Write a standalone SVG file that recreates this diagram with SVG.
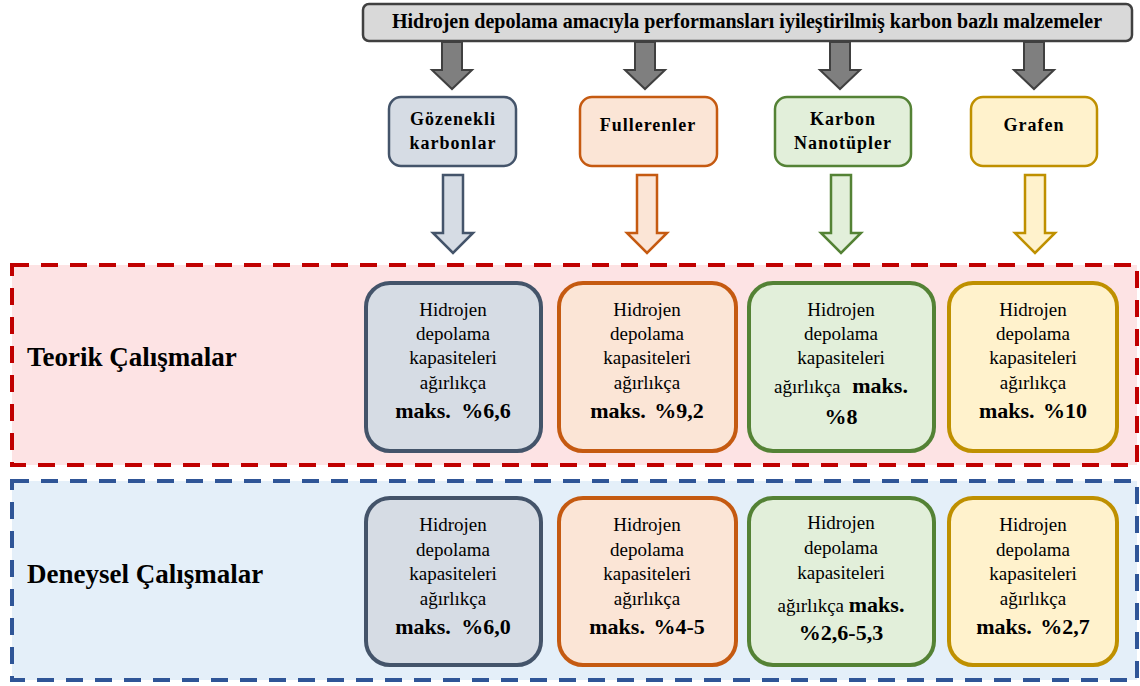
<svg xmlns="http://www.w3.org/2000/svg" width="1140" height="686" viewBox="0 0 1140 686">
<style>
text{font-family:"Liberation Serif","Times New Roman",serif;fill:#000;text-anchor:middle}
.t{font-size:20px;font-weight:bold}
.c{font-size:18px;font-weight:bold;letter-spacing:1px}
.b{font-size:19px}
.m{font-size:22px;font-weight:bold}
.lab{font-size:27px;font-weight:bold;text-anchor:start}
.gray{fill:#d6dce4;stroke:#44546a}
.org{fill:#fbe5d6;stroke:#c55a11}
.grn{fill:#e2efda;stroke:#548235}
.yel{fill:#fff2cc;stroke:#bf9000}
.cat{stroke-width:2.5}
.res{stroke-width:4}
.ga{fill:#7f7f7f;stroke:#404040;stroke-width:2}
.oa{stroke-width:2.5}
</style>
<rect x="12" y="265" width="1125" height="200" fill="#fde3e4" stroke="#c00000" stroke-width="4" stroke-dasharray="17 12"/>
<rect x="12" y="481" width="1125" height="199" fill="#e4eff9" stroke="#2f5597" stroke-width="4" stroke-dasharray="17 12"/>
<g id="top">
<rect x="363" y="4" width="769" height="37" rx="6" fill="#d9d9d9" stroke="#404040" stroke-width="2.5"/>
<text class="t" x="747" y="28">Hidrojen depolama amacıyla performansları iyileştirilmiş karbon bazlı malzemeler</text>
</g>
<g id="connectors">
<polygon class="ga" points="442,42 462,42 462,70 472,70 452,89 432,70 442,70"/>
<polygon class="ga" points="635,42 655,42 655,70 665,70 645,89 625,70 635,70"/>
<polygon class="ga" points="830,42 850,42 850,70 860,70 840,89 820,70 830,70"/>
<polygon class="ga" points="1024,42 1044,42 1044,70 1054,70 1034,89 1014,70 1024,70"/>
<polygon class="gray oa" points="443,175 463,175 463,233 473,233 453,253 433,233 443,233"/>
<polygon class="org oa" points="637,175 657,175 657,233 667,233 647,253 627,233 637,233"/>
<polygon class="grn oa" points="831,175 851,175 851,233 861,233 841,253 821,233 831,233"/>
<polygon class="yel oa" points="1025,175 1045,175 1045,233 1055,233 1035,253 1015,233 1025,233"/>
</g>
<g id="cat-gozenekli">
<rect class="gray cat" x="389" y="97" width="127" height="69" rx="12"/>
<text class="c" x="453" y="125">Gözenekli</text>
<text class="c" x="453" y="149">karbonlar</text>
</g>
<g id="cat-fulleren">
<rect class="org cat" x="580" y="97" width="137" height="69" rx="12"/>
<text class="c" x="648" y="131">Fullerenler</text>
</g>
<g id="cat-nanotup">
<rect class="grn cat" x="775" y="97" width="136" height="69" rx="12"/>
<text class="c" x="843" y="125">Karbon</text>
<text class="c" x="843" y="149">Nanotüpler</text>
</g>
<g id="cat-grafen">
<rect class="yel cat" x="971" y="97" width="126" height="69" rx="12"/>
<text class="c" x="1034" y="131">Grafen</text>
</g>
<g id="label-teorik"><text class="lab" x="27" y="366">Teorik Çalışmalar</text></g>
<g id="label-deneysel"><text class="lab" x="27" y="583">Deneysel Çalışmalar</text></g>
<g id="t-gozenekli">
<rect class="gray res" x="366" y="283" width="175" height="168" rx="24"/>
<text class="b" x="453" y="316">Hidrojen</text><text class="b" x="453" y="340">depolama</text><text class="b" x="453" y="364">kapasiteleri</text><text class="b" x="453" y="389">ağırlıkça</text>
<text class="m" x="453" y="418">maks. <tspan dx="5">%6,6</tspan></text>
</g>
<g id="t-fulleren">
<rect class="org res" x="559" y="283" width="177" height="168" rx="24"/>
<text class="b" x="647" y="316">Hidrojen</text><text class="b" x="647" y="340">depolama</text><text class="b" x="647" y="364">kapasiteleri</text><text class="b" x="647" y="389">ağırlıkça</text>
<text class="m" x="647" y="418">maks. <tspan dx="3">%9,2</tspan></text>
</g>
<g id="t-nanotup">
<rect class="grn res" x="749" y="283" width="185" height="168" rx="24"/>
<text class="b" x="841" y="316">Hidrojen</text><text class="b" x="841" y="340">depolama</text><text class="b" x="841" y="364">kapasiteleri</text>
<text x="841" y="393"><tspan class="b">ağırlıkça </tspan><tspan class="m" dx="7">maks.</tspan></text>
<text class="m" x="841" y="424">%8</text>
</g>
<g id="t-grafen">
<rect class="yel res" x="949" y="283" width="168" height="168" rx="24"/>
<text class="b" x="1033" y="316">Hidrojen</text><text class="b" x="1033" y="340">depolama</text><text class="b" x="1033" y="364">kapasiteleri</text><text class="b" x="1033" y="389">ağırlıkça</text>
<text class="m" x="1033" y="418">maks. <tspan dx="3">%10</tspan></text>
</g>
<g id="d-gozenekli">
<rect class="gray res" x="366" y="498" width="175" height="167" rx="24"/>
<text class="b" x="453" y="531">Hidrojen</text><text class="b" x="453" y="556">depolama</text><text class="b" x="453" y="580">kapasiteleri</text><text class="b" x="453" y="605">ağırlıkça</text>
<text class="m" x="453" y="634">maks. <tspan dx="5">%6,0</tspan></text>
</g>
<g id="d-fulleren">
<rect class="org res" x="559" y="498" width="177" height="167" rx="24"/>
<text class="b" x="647" y="531">Hidrojen</text><text class="b" x="647" y="556">depolama</text><text class="b" x="647" y="580">kapasiteleri</text><text class="b" x="647" y="605">ağırlıkça</text>
<text class="m" x="647" y="634">maks. <tspan dx="3">%4-5</tspan></text>
</g>
<g id="d-nanotup">
<rect class="grn res" x="749" y="498" width="185" height="167" rx="24"/>
<text class="b" x="841" y="529">Hidrojen</text><text class="b" x="841" y="554">depolama</text><text class="b" x="841" y="579">kapasiteleri</text>
<text x="841" y="612"><tspan class="b">ağırlıkça </tspan><tspan class="m">maks.</tspan></text>
<text class="m" x="841" y="640">%2,6-5,3</text>
</g>
<g id="d-grafen">
<rect class="yel res" x="949" y="498" width="168" height="167" rx="24"/>
<text class="b" x="1033" y="531">Hidrojen</text><text class="b" x="1033" y="556">depolama</text><text class="b" x="1033" y="580">kapasiteleri</text><text class="b" x="1033" y="605">ağırlıkça</text>
<text class="m" x="1033" y="634">maks. <tspan dx="3">%2,7</tspan></text>
</g>
</svg>
